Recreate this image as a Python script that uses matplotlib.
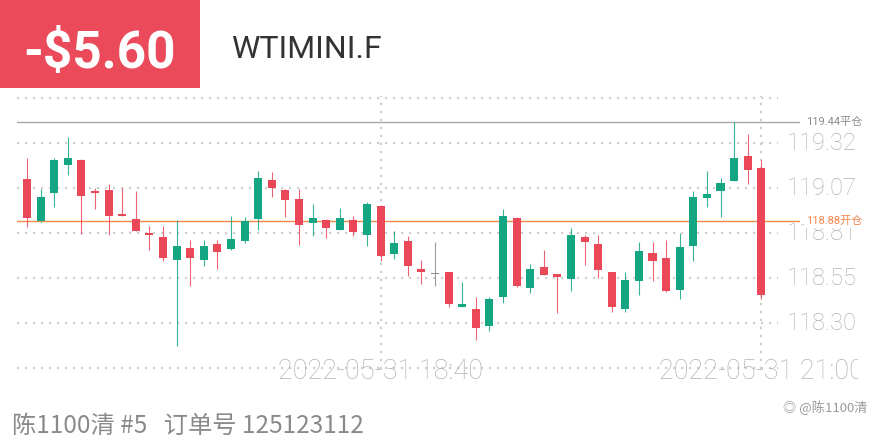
import numpy as np
import pandas as pd
import matplotlib
matplotlib.use("Agg")
import matplotlib.pyplot as plt
from matplotlib.patches import Rectangle
from matplotlib.transforms import Bbox, TransformedBbox, blended_transform_factory

plt.rcParams['font.family'] = ['Roboto', 'Noto Sans CJK SC', 'DejaVu Sans']

# 5-minute candles, 2022-05-31 16:30 .. 21:00
times = pd.date_range("2022-05-31 16:30", "2022-05-31 21:00", freq="5min")

opens = [119.118, 118.877, 119.040, 119.199, 119.225, 119.049, 119.057, 118.917, 118.889, 118.809,
         118.788, 118.660, 118.728, 118.660, 118.747, 118.720, 118.768, 118.891, 119.112, 119.057,
         119.006, 118.868, 118.887, 118.830, 118.887, 118.800, 118.966, 118.690, 118.768, 118.607,
         118.580, 118.590, 118.391, 118.380, 118.281, 118.448, 118.896, 118.499, 118.618, 118.580,
         118.550, 118.788, 118.747, 118.588, 118.382, 118.541, 118.698, 118.669, 118.490, 118.739,
         119.008, 119.049, 119.108, 119.246, 119.178]
closes = [118.898, 119.017, 119.227, 119.237, 119.019, 119.040, 118.909, 118.909, 118.821, 118.802,
          118.671, 118.739, 118.669, 118.738, 118.701, 118.777, 118.877, 119.125, 119.068, 119.000,
          118.858, 118.896, 118.839, 118.896, 118.819, 118.976, 118.679, 118.756, 118.622, 118.590,
          118.580, 118.410, 118.410, 118.270, 118.438, 118.909, 118.508, 118.607, 118.571, 118.561,
          118.798, 118.760, 118.599, 118.391, 118.546, 118.707, 118.650, 118.480, 118.730, 119.015,
          119.034, 119.097, 119.237, 119.167, 118.461]
highs = [119.237, 119.061, 119.235, 119.356, 119.228, 119.065, 119.091, 119.068, 119.048, 118.853,
         118.849, 118.887, 118.773, 118.773, 118.769, 118.909, 118.902, 119.161, 119.159, 119.060,
         119.061, 118.978, 118.890, 118.953, 118.906, 118.985, 118.970, 118.821, 118.792, 118.660,
         118.760, 118.590, 118.531, 118.448, 118.448, 118.947, 118.900, 118.637, 118.717, 118.580,
         118.839, 118.802, 118.802, 118.590, 118.588, 118.758, 118.758, 118.773, 118.811, 119.048,
         119.161, 119.123, 119.439, 119.375, 119.227]
lows = [118.845, 118.872, 118.959, 119.138, 118.807, 118.947, 118.802, 118.907, 118.820, 118.713,
        118.650, 118.172, 118.508, 118.622, 118.607, 118.716, 118.754, 118.830, 119.015, 118.902,
        118.745, 118.796, 118.783, 118.826, 118.796, 118.735, 118.650, 118.665, 118.569, 118.524,
        118.508, 118.391, 118.388, 118.206, 118.253, 118.414, 118.505, 118.471, 118.570, 118.357,
        118.480, 118.631, 118.556, 118.363, 118.363, 118.457, 118.537, 118.478, 118.437, 118.650,
        118.957, 118.900, 119.107, 119.091, 118.437]

grid_levels = [118.044, 118.299, 118.555, 118.810, 119.065, 119.321, 119.576]
price_labels = {118.299: "118.30", 118.555: "118.55", 118.810: "118.81",
                119.065: "119.07", 119.321: "119.32"}
close_price = 119.44
open_price = 118.88
date_ticks = [26, 54]

GREEN = "#14a683"
RED = "#ea4759"
GRAY_DOJI = "#8c8c8c"
GRID = "#cfcfcf"

fig = plt.figure(figsize=(8.8, 4.4), dpi=100)
fig.patch.set_facecolor("white")

# header
fig.patches.append(Rectangle((0, 0.8), 200 / 880, 0.2, transform=fig.transFigure,
                             facecolor="#ea4a5a", edgecolor="none"))
fig.text(0.113, 0.845, "-$5.60", color="white", fontsize=37, fontweight="bold",
         ha="center", va="baseline")
fig.text(0.2625, 0.868, "WTIMINI.F", color="#333333", fontsize=23, ha="left", va="baseline")

# chart
ax = fig.add_axes([17 / 880, 1 - 372 / 440, 783 / 880, 276 / 440])
ax.set_xlim(-0.735, 56.84)
ax.set_ylim(118.022, 119.588)
ax.axis("off")

dotted = (0, (1, 2.6))
ax.hlines(grid_levels, 0, 0.972, transform=blended_transform_factory(ax.transAxes, ax.transData),
          colors=GRID, linewidth=1.6, linestyles=dotted, zorder=0)
ax.vlines(date_ticks, 118.04, 119.588, colors=GRID, linewidth=1.6, linestyles=dotted, zorder=0)

x = np.arange(len(times))
o = np.array(opens)
c = np.array(closes)
colors = [GREEN if cc > oo else (RED if cc < oo else GRAY_DOJI) for oo, cc in zip(o, c)]
ax.vlines(x, lows, highs, colors=colors, linewidth=0.8, alpha=0.85, zorder=2)
body_bottom = np.minimum(o, c)
body_height = np.maximum(np.abs(c - o), 0.006)
ax.bar(x, body_height, bottom=body_bottom, width=0.6, color=colors, linewidth=0, zorder=3)

# position lines
trans_ry = blended_transform_factory(ax.transAxes, ax.transData)
ax.axhline(close_price, color="#a8a8a8", linewidth=1, zorder=1)
ax.axhline(open_price, color="#f4864a", linewidth=1, zorder=1)

for lvl, lab in price_labels.items():
    ax.text(0.9834, lvl, lab, transform=trans_ry, ha="left", va="center",
            fontsize=17, color="#b3b3b3", fontweight="light", clip_on=False, zorder=4)

ax.text(1.0077, close_price, f"{close_price:.2f}平仓", transform=trans_ry, ha="left",
        va="center", fontsize=8, color="#8a8a8a", clip_on=False, zorder=6,
        bbox=dict(facecolor="white", edgecolor="none", pad=0.5))
ax.text(1.0077, open_price, f"{open_price:.2f}开仓", transform=trans_ry, ha="left",
        va="center", fontsize=8, color="#f4864a", clip_on=False, zorder=6,
        bbox=dict(facecolor="white", edgecolor="none", pad=1.5))

clip = TransformedBbox(Bbox([[0, 0], [858 / 880, 1]]), fig.transFigure)
for i in date_ticks:
    t = ax.text(i, 118.022, times[i].strftime("%Y-%m-%d %H:%M"), ha="center", va="center",
                fontsize=19.5, color="#b3b3b3", fontweight="light", zorder=5)
    t.set_clip_box(clip)
    t.set_clip_on(True)

# footer
fig.text(0.0136, 1 - 433 / 440, "陈1100清 #5   订单号 125123112", color="#8a8a8a",
         fontsize=17.5, ha="left", va="baseline",
         family=["Noto Sans CJK SC", "DejaVu Sans"])
fig.text(0.986, 1 - 412 / 440, "◎ @陈1100清", color="#9a9a9a", fontsize=9.5,
         ha="right", va="baseline", family=["Noto Sans CJK SC", "DejaVu Sans"])

fig.savefig("out.png", dpi=100, facecolor="white")
